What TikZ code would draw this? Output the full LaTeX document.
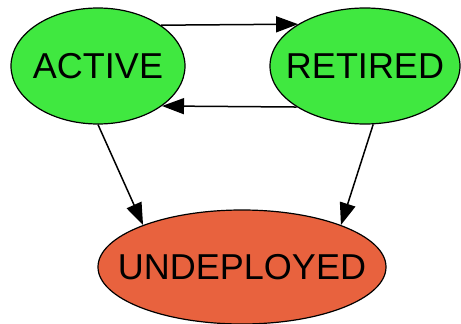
\documentclass[tikz,border=0pt]{standalone}
\usepackage{fontspec}
\setmainfont{Liberation Sans}
\usetikzlibrary{shapes.geometric, arrows.meta}
\definecolor{stategreen}{RGB}{64,232,64}
\definecolor{stateorange}{RGB}{232,98,62}
\begin{document}
\begin{tikzpicture}[x=1pt, y=-1pt, -{Triangle[length=22pt,width=16pt]}, line width=1.5pt, node distance=267pt,
    state/.style={ellipse, draw, line width=1.2pt, inner sep=0pt, minimum height=116pt,
      label={[font=\fontsize{36}{40}\selectfont]center:#1}}]
    \useasboundingbox (0,0) rectangle (461,324);
    % Define states
    \node[state=ACTIVE, fill=stategreen, minimum width=174pt] (A) at (98,66) {};
    \node[state=RETIRED, fill=stategreen, minimum width=190pt, right of=A] (R) {};
    \node[state=UNDEPLOYED, fill=stateorange, minimum width=288pt, minimum height=114pt] (U) at (242,267) {};

    % Transitions between states
    \draw (A.33.5) -- (R.148);
    \draw (R.211) -- (A.-32.6);
    \draw (A.south) -- (U.157);
    \draw (R.-82) -- (U.23);

    \end{tikzpicture}
\end{document}
